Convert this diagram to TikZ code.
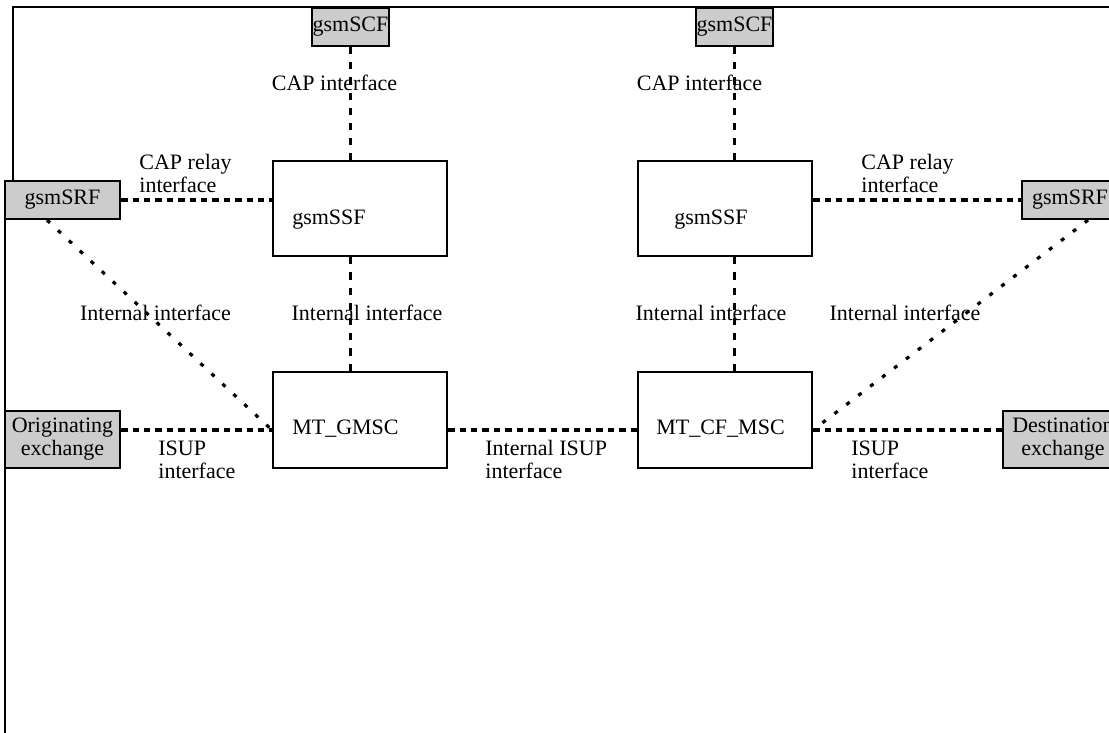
\documentclass[tikz,border=0pt]{standalone}
\usepackage{fontspec}
\setmainfont{Liberation Serif}
\usepackage{tikz}
\usetikzlibrary{positioning}

\tikzset{
unit/.style={draw, line width=1.1pt, inner sep=0pt, align=center},
grey/.style={unit, fill=black!20},
fnbox/.style={unit, minimum width=87pt, minimum height=48pt},
lbl/.style={inner sep=0pt, align=left},
hlink/.style={line width=1.6pt, dash pattern=on 3.2pt off 2.5pt},
vlink/.style={line width=1.6pt, dash pattern=on 3.6pt off 4pt},
dlink/.style={line width=1.6pt, dash pattern=on 2pt off 5.5pt},
}

\begin{document}
\begin{tikzpicture}[x=0.5pt,y=-0.5pt,font=\fontsize{11}{11.5}\selectfont]
\useasboundingbox (0,0) rectangle (1109,733);

%frame
\draw[line width=0.8pt] (1109,7) -- (13,7) -- (13,181);
\draw[line width=0.8pt] (5,219) -- (5,733);

%----------gsmSCF
\node[grey, minimum width=38.5pt, minimum height=19pt] (scfL) at (350.5,27) {gsmSCF};
\node[grey, minimum width=38.5pt, minimum height=19pt] (scfR) at (734.5,27) {gsmSCF};

%----------gsmSRF
\node[grey, minimum width=57.5pt, minimum height=19pt] (srfL) at (62.5,200) {gsmSRF};
\node[grey, minimum width=48pt, minimum height=19pt] (srfR) at (1070,200) {gsmSRF};

%----------exchanges
\node[grey, minimum width=57.5pt, minimum height=28.5pt] (orig) at (62.5,439.5) {Originating\\exchange};
\node[grey, minimum width=60pt, minimum height=28.5pt] (dest) at (1063,439.5) {Destination\\exchange};

%----------gsmSSF
\node[fnbox, minimum height=47.5pt,
label={[lbl,name=ssfLt,anchor=west,xshift=10pt,yshift=-5.5pt]west:gsmSSF}] (ssfL) at (360,208.5) {};
\node[fnbox, minimum height=47.5pt,
label={[lbl,name=ssfRt,anchor=west,xshift=18.5pt,yshift=-5.5pt]west:gsmSSF}] (ssfR) at (725,208.5) {};

%----------MSC
\node[fnbox,
label={[lbl,name=gmsct,anchor=west,xshift=10pt,yshift=-4.5pt]west:MT\_GMSC}] (gmsc) at (360,420) {};
\node[fnbox,
label={[lbl,name=cfmsct,anchor=west,xshift=9.5pt,yshift=-4.5pt]west:MT\_CF\_MSC}] (cfmsc) at (725,420) {};

\coordinate (gmscin) at ([yshift=-5pt]gmsc.west);
\coordinate (gmscout) at ([yshift=-5pt]gmsc.east);
\coordinate (cfin) at ([yshift=-5pt]cfmsc.west);
\coordinate (cfout) at ([yshift=-5pt]cfmsc.east);

%----------lines
\draw[vlink] (scfL) -- (scfL |- ssfL.north);
\draw[vlink] (scfR) -- (scfR |- ssfR.north);
\draw[vlink] (ssfL.south -| scfL) -- (gmsc.north -| scfL);
\draw[vlink] (ssfR.south -| scfR) -- (cfmsc.north -| scfR);

\draw[hlink] (srfL) -- (srfL -| ssfL.west);
\draw[hlink] (ssfR.east |- srfR) -- (srfR);

\draw[dlink] ([xshift=-7.75pt]srfL.south) -- (gmscin);
\draw[dlink] ([xshift=9pt]srfR.south) -- (cfout);

\draw[hlink] (gmscin -| orig.east) -- (gmscin);
\draw[hlink] (gmscout) -- (cfin);
\draw[hlink] (cfout) -- (cfout -| dest.west);

%----------labels
\node[lbl] (capL) at (334.5,83) {CAP interface};
\node[lbl] (capR) at (699.5,83) {CAP interface};
\node[lbl, anchor=west] (relayL) at (139,173.5) {CAP relay\\interface};
\node[lbl, anchor=west] (relayR) at (861,173.5) {CAP relay\\interface};
\node[lbl] (intL1) at (155.5,313) {Internal interface};
\node[lbl] (intL2) at (367,313) {Internal interface};
\node[lbl] (intR1) at (711,313) {Internal interface};
\node[lbl] (intR2) at (905,313) {Internal interface};
\node[lbl, anchor=west] (isupL) at (158,459.5) {ISUP\\interface};
\node[lbl, anchor=west] (isupM) at (485,459.5) {Internal ISUP\\interface};
\node[lbl, anchor=west] (isupR) at (851,459.5) {ISUP\\interface};

\end{tikzpicture}
\end{document}
